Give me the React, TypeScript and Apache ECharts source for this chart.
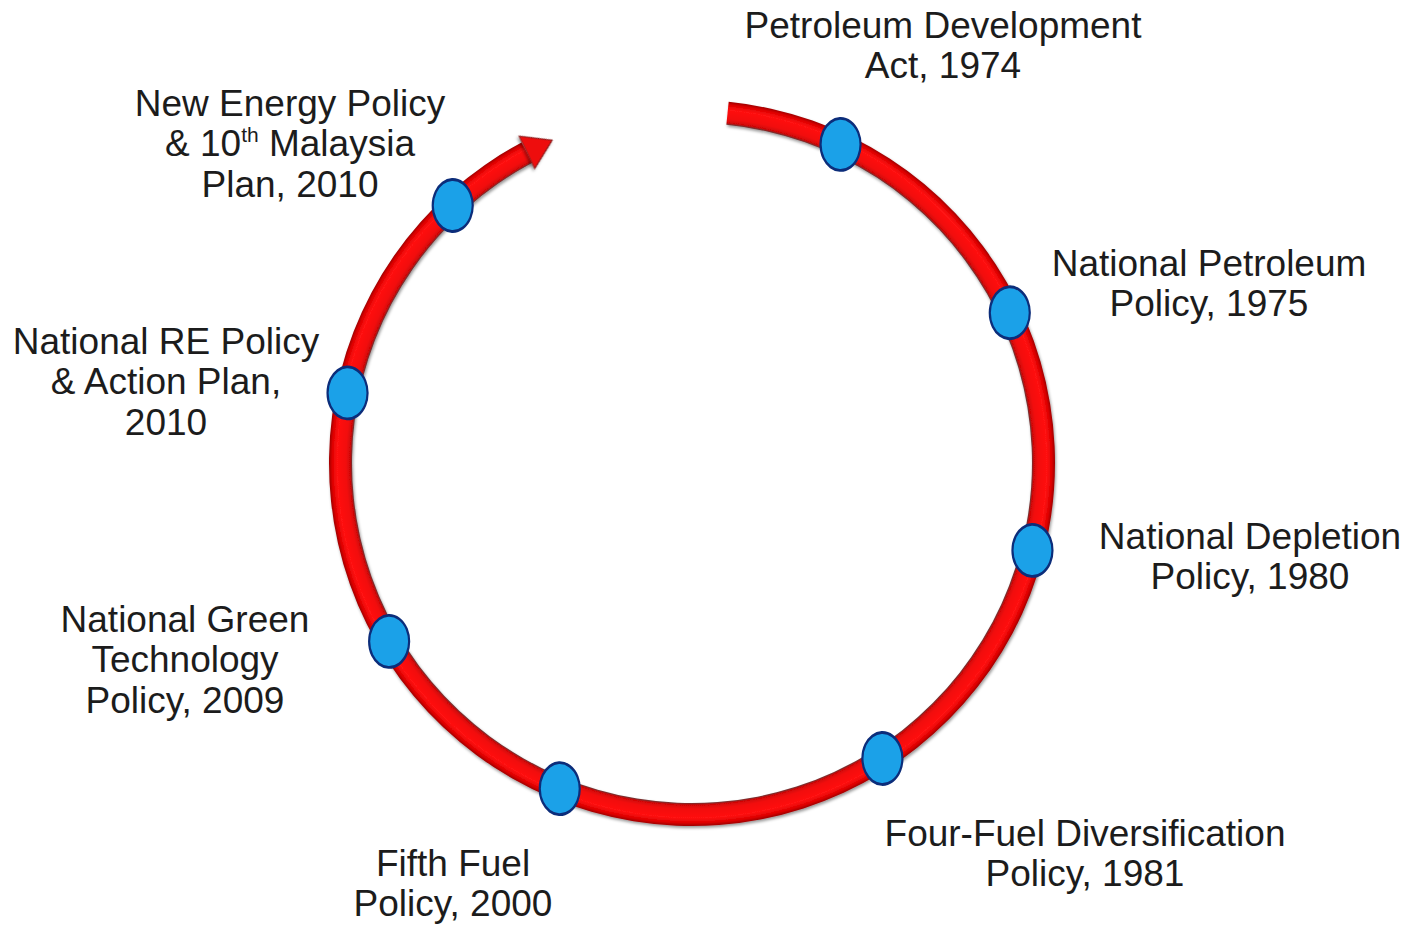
import React, { useEffect, useRef } from 'react';
import * as echarts from 'echarts';

// ---- data ----
const policyLabels: string[] = [
  'Petroleum Development\nAct, 1974',
  'National Petroleum\nPolicy, 1975',
  'National Depletion\nPolicy, 1980',
  'Four-Fuel Diversification\nPolicy, 1981',
  'Fifth Fuel\nPolicy, 2000',
  'National Green\nTechnology\nPolicy, 2009',
  'National RE Policy\n& Action Plan,\n2010',
  'New Energy Policy\n& 10{sup|th} Malaysia\nPlan, 2010',
];
// position of each policy on the timeline ring, degrees clockwise from 12 o'clock
const policyAngles: number[] = [25.0, 64.7, 104.4, 147.2, 202.1, 239.5, 281.5, 317.1];
const ringCategory: string[] = ['timeline'];
const arcStartAngle = 5.8;
const arcEndAngle = 332;
const arrowAngle = 334.3;

// ---- layout ----
const CENTER: [number, number] = [692, 463];
const R_IN = 340;
const R_OUT = 363;
const LINE_H = 40.5;
const labelPos: [number, number][] = [
  [943, 5],
  [1209, 243],
  [1250, 516],
  [1085, 813],
  [453, 843],
  [185, 599],
  [166, 321],
  [290, 83],
];
const FONT = '"Liberation Sans", Arial, Helvetica, sans-serif';

export default function App() {
  const ref = useRef<HTMLDivElement>(null);
  useEffect(() => {
    if (!ref.current) return;
    const chart = echarts.init(ref.current, undefined, { renderer: 'svg' });
    const ringGradient = {
      type: 'radial',
      x: CENTER[0],
      y: CENTER[1],
      r: R_OUT,
      global: true,
      colorStops: [
        { offset: 0, color: '#6e3434' },
        { offset: R_IN / R_OUT, color: '#6e3434' },
        { offset: (R_IN + 2) / R_OUT, color: '#d00606' },
        { offset: (R_IN + 6) / R_OUT, color: '#f20a0a' },
        { offset: (R_IN + 15) / R_OUT, color: '#ff1212' },
        { offset: (R_IN + 20) / R_OUT, color: '#dc0000' },
        { offset: 1, color: '#9e0000' },
      ],
    };
    const option: any = {
      animation: false,
      backgroundColor: '#ffffff',
      polar: { center: CENTER, radius: [R_IN, R_OUT] },
      angleAxis: {
        type: 'value',
        min: 0,
        max: 360,
        startAngle: 90,
        clockwise: true,
        show: false,
      },
      radiusAxis: { type: 'category', data: ringCategory, show: false },
      series: [
        {
          type: 'bar',
          coordinateSystem: 'polar',
          stack: 'ring',
          barWidth: '100%',
          silent: true,
          data: [arcStartAngle],
          itemStyle: { color: 'rgba(0,0,0,0)' },
        },
        {
          type: 'bar',
          coordinateSystem: 'polar',
          stack: 'ring',
          barWidth: '100%',
          silent: true,
          data: [arcEndAngle - arcStartAngle],
          itemStyle: {
            color: ringGradient,
            shadowColor: 'rgba(0,0,0,0.4)',
            shadowBlur: 3,
            shadowOffsetX: 1,
            shadowOffsetY: 2,
          },
        },
        {
          type: 'scatter',
          coordinateSystem: 'polar',
          silent: true,
          data: [[0, arrowAngle]],
          symbol: 'triangle',
          symbolSize: [36, 28],
          symbolRotate: -arrowAngle - 90,
          itemStyle: {
            color: '#ee0a0a',
            opacity: 1,
            borderColor: '#8a1a1a',
            borderWidth: 1,
            shadowColor: 'rgba(0,0,0,0.4)',
            shadowBlur: 3,
            shadowOffsetX: 1,
            shadowOffsetY: 2,
          },
          z: 3,
        },
        {
          type: 'scatter',
          coordinateSystem: 'polar',
          silent: true,
          data: policyAngles.map((a) => [0, a]),
          symbol: 'circle',
          symbolSize: [40, 52],
          itemStyle: {
            color: '#1ba1e8',
            opacity: 1,
            borderColor: '#0c2d7a',
            borderWidth: 2.5,
          },
          z: 4,
        },
      ],
      graphic: policyLabels.map((t, i) => ({
        type: 'text',
        x: labelPos[i][0],
        y: labelPos[i][1],
        silent: true,
        style: {
          text: t,
          fill: '#1c1c1c',
          fontSize: 37,
          fontFamily: FONT,
          lineHeight: LINE_H,
          align: 'center',
          textAlign: 'center',
          verticalAlign: 'top',
          textVerticalAlign: 'top',
          rich: {
            sup: {
              fontSize: 21,
              fontFamily: FONT,
              fill: '#1c1c1c',
              lineHeight: 24,
              verticalAlign: 'top',
            },
          },
        },
      })),
    };
    chart.setOption(option);
    return () => chart.dispose();
  }, []);
  return (
    <div
      ref={ref}
      style={{ position: 'fixed', left: 0, top: 0, width: 1410, height: 925, background: '#fff' }}
    />
  );
}
